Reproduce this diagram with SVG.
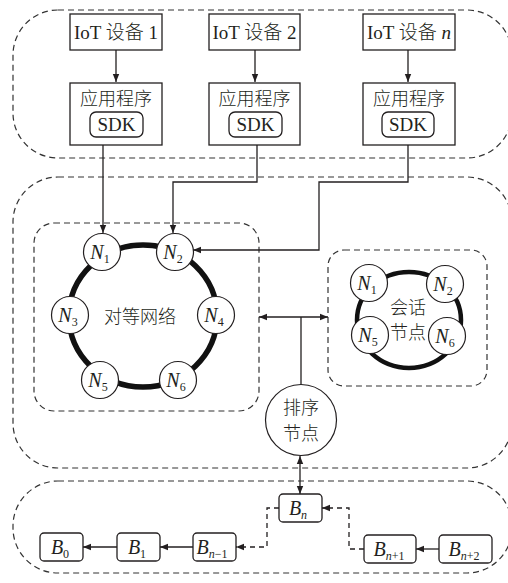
<svg xmlns="http://www.w3.org/2000/svg" width="508" height="583" viewBox="0 0 508 583">
<defs>
<style>
.grp{fill:none;stroke:#333;stroke-width:1.2;stroke-dasharray:6 4}
.box{fill:#fff;stroke:#231f20;stroke-width:1.3}
.ln{fill:none;stroke:#231f20;stroke-width:1.3}
.dl{fill:none;stroke:#231f20;stroke-width:1.3;stroke-dasharray:5 4}
.ring{fill:none;stroke:#111;stroke-width:5.5}
.nc{fill:#fff;stroke:#231f20;stroke-width:1.2}
.t{font-family:"Liberation Serif","Noto Sans CJK SC",serif;font-size:19px;fill:#231f20;text-anchor:middle;font-weight:300}
.cn{font-family:"Noto Sans CJK SC",sans-serif;font-size:18px;fill:#231f20;text-anchor:middle;font-weight:300}
.n{font-family:"Liberation Serif",serif;font-style:italic;font-size:20px;fill:#231f20;text-anchor:middle}
.s{font-size:12px;font-style:normal}
.si{font-size:12px;font-style:italic}
</style>
<marker id="ah" markerUnits="userSpaceOnUse" markerWidth="9" markerHeight="8" refX="8" refY="4" orient="auto-start-reverse">
<path d="M0,0.8 L8,4 L0,7.2 z" fill="#231f20"/>
</marker>
</defs>

<g id="groups">
<rect class="grp" x="13" y="10" width="499" height="148" rx="45" ry="45"/>
<rect class="grp" x="13" y="177" width="499" height="291" rx="45" ry="45"/>
<rect class="grp" x="13" y="481" width="499" height="92" rx="45" ry="45"/>
<rect class="grp" x="34" y="223" width="225" height="188" rx="20" ry="20"/>
<rect class="grp" x="328" y="250" width="159" height="136" rx="16" ry="16"/>
</g>

<g id="connectors">
<path class="ln" d="M116,50 V82" marker-end="url(#ah)"/>
<path class="ln" d="M255,50 V82" marker-end="url(#ah)"/>
<path class="ln" d="M408,50 V82" marker-end="url(#ah)"/>
<path class="ln" d="M103,145 V233" marker-end="url(#ah)"/>
<path class="ln" d="M257,145 V182 H173 V233" marker-end="url(#ah)"/>
<path class="ln" d="M408,145 V182 H319 V250 H193" marker-end="url(#ah)"/>
<path class="ln" d="M259,317 H328" marker-start="url(#ah)" marker-end="url(#ah)"/>
<path class="ln" d="M301,317 V385"/>
<path class="ln" d="M300,456 V494" marker-start="url(#ah)" marker-end="url(#ah)"/>
<path class="ln" d="M117,547 H83" marker-end="url(#ah)"/>
<path class="ln" d="M193,547 H160" marker-end="url(#ah)"/>
<path class="ln" d="M439,549 H416" marker-end="url(#ah)"/>
<path class="dl" d="M279,508 H267 V547 H236" marker-end="url(#ah)"/>
<path class="dl" d="M364,549 H349 V508 H322" marker-end="url(#ah)"/>
</g>

<g id="iot1"><rect class="box" x="70" y="14" width="92" height="36"/><text class="t" x="116" y="39">IoT 设备 1</text></g>
<g id="iot2"><rect class="box" x="209" y="14" width="91" height="36"/><text class="t" x="254.5" y="39">IoT 设备 2</text></g>
<g id="iotn"><rect class="box" x="363" y="14" width="92" height="36"/><text class="t" x="409" y="39">IoT 设备 <tspan font-style="italic">n</tspan></text></g>

<g id="app1"><rect class="box" x="70" y="83" width="92" height="62"/><text class="cn" x="116" y="105">应用程序</text><rect class="box" x="90" y="112" width="53" height="25" rx="6"/><text class="t" x="116.5" y="131">SDK</text></g>
<g id="app2"><rect class="box" x="209" y="83" width="91" height="62"/><text class="cn" x="254.5" y="105">应用程序</text><rect class="box" x="229" y="112" width="53" height="25" rx="6"/><text class="t" x="255.5" y="131">SDK</text></g>
<g id="appn"><rect class="box" x="363" y="83" width="92" height="62"/><text class="cn" x="409" y="105">应用程序</text><rect class="box" x="382" y="112" width="52" height="25" rx="6"/><text class="t" x="408" y="131">SDK</text></g>

<g id="p2p">
<ellipse class="ring" cx="143" cy="316" rx="74" ry="71"/>
<text class="cn" x="140" y="323">对等网络</text>
</g>
<g id="p2p-n1"><circle class="nc" cx="102" cy="252" r="18.5"/><text class="n" x="100" y="259">N<tspan class="s" dy="4">1</tspan></text></g>
<g id="p2p-n2"><circle class="nc" cx="175" cy="252" r="18.5"/><text class="n" x="173" y="259">N<tspan class="s" dy="4">2</tspan></text></g>
<g id="p2p-n3"><circle class="nc" cx="70" cy="315" r="18.5"/><text class="n" x="68" y="322">N<tspan class="s" dy="4">3</tspan></text></g>
<g id="p2p-n4"><circle class="nc" cx="216" cy="315" r="18.5"/><text class="n" x="214" y="322">N<tspan class="s" dy="4">4</tspan></text></g>
<g id="p2p-n5"><circle class="nc" cx="100" cy="380" r="18.5"/><text class="n" x="98" y="387">N<tspan class="s" dy="4">5</tspan></text></g>
<g id="p2p-n6"><circle class="nc" cx="178" cy="380" r="18.5"/><text class="n" x="176" y="387">N<tspan class="s" dy="4">6</tspan></text></g>

<g id="session">
<ellipse class="ring" cx="409" cy="320" rx="52" ry="48" style="stroke-width:4.5"/>
<text class="cn" x="408" y="314">会话</text>
<text class="cn" x="408" y="339">节点</text>
</g>
<g id="s-n1"><circle class="nc" cx="369" cy="283" r="18.5"/><text class="n" x="367" y="290">N<tspan class="s" dy="4">1</tspan></text></g>
<g id="s-n2"><circle class="nc" cx="445" cy="284" r="18.5"/><text class="n" x="443" y="291">N<tspan class="s" dy="4">2</tspan></text></g>
<g id="s-n5"><circle class="nc" cx="370" cy="335" r="18.5"/><text class="n" x="368" y="342">N<tspan class="s" dy="4">5</tspan></text></g>
<g id="s-n6"><circle class="nc" cx="447" cy="336" r="18.5"/><text class="n" x="445" y="343">N<tspan class="s" dy="4">6</tspan></text></g>

<g id="orderer"><circle class="nc" cx="301" cy="420" r="35.5"/><text class="cn" x="301" y="414">排序</text><text class="cn" x="301" y="440">节点</text></g>

<g id="bn"><rect class="box" x="279" y="494" width="43" height="28" rx="4"/><text class="n" x="298" y="515">B<tspan class="si" dy="4">n</tspan></text></g>
<g id="bn1"><rect class="box" x="364" y="535" width="52" height="28" rx="4"/><text class="n" x="389" y="556">B<tspan class="si" dy="4">n</tspan><tspan class="s">+1</tspan></text></g>
<g id="bn2"><rect class="box" x="439" y="535" width="53" height="28" rx="4"/><text class="n" x="464" y="556">B<tspan class="si" dy="4">n</tspan><tspan class="s">+2</tspan></text></g>
<g id="b0"><rect class="box" x="40" y="533" width="43" height="28" rx="4"/><text class="n" x="60" y="554">B<tspan class="s" dy="4">0</tspan></text></g>
<g id="b1"><rect class="box" x="117" y="533" width="43" height="28" rx="4"/><text class="n" x="137" y="554">B<tspan class="s" dy="4">1</tspan></text></g>
<g id="bnm1"><rect class="box" x="193" y="533" width="43" height="28" rx="4"/><text class="n" x="212" y="554">B<tspan class="si" dy="4">n</tspan><tspan class="s">−1</tspan></text></g>
</svg>
